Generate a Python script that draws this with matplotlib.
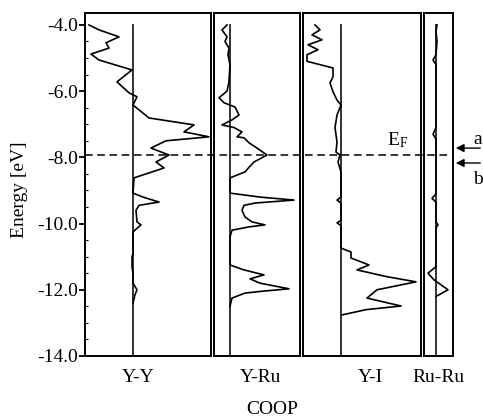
import matplotlib
matplotlib.use("Agg")
import matplotlib.pyplot as plt
import matplotlib.transforms as mtransforms
from matplotlib.lines import Line2D
from matplotlib.patches import FancyArrowPatch
from matplotlib.ticker import FormatStrFormatter, MultipleLocator

plt.rcParams['font.family'] = ['Liberation Serif', 'DejaVu Serif']
plt.rcParams['mathtext.fontset'] = 'custom'
plt.rcParams['mathtext.rm'] = 'Liberation Serif'
plt.rcParams['mathtext.it'] = 'Liberation Serif:italic'

# COOP curves (energy in eV, COOP in arbitrary units)
yy_E = [-4.0, -4.15, -4.36, -4.54, -4.7, -4.88, -5.06, -5.36, -5.72, -6.05, -6.17, -6.42,
        -6.81, -7.02, -7.23, -7.38, -7.5, -7.72, -7.93, -8.14, -8.32, -8.62, -9.08, -9.2,
        -9.35, -9.45, -9.6, -9.95, -10.04, -10.25, -10.9, -11.0, -11.3, -11.5, -11.8, -11.9,
        -12.0, -12.15, -12.4]
yy_c = [-44, -34, -14, -27, -24, -42, -34, -1, -16, -4, 4, 0,
        16, 61, 51, 76, 33, 18, 36, 23, 31, 1, 0, 10,
        26, 6, 3, 4, 8, 0, 0, -1, -1, 0, 0, 2,
        4, 2, 0]

yru_E = [-4.0, -4.15, -4.36, -4.5, -4.7, -4.9, -5.2, -5.72, -6.0, -6.2, -6.35, -6.48,
         -6.72, -6.87, -7.02, -7.1, -7.23, -7.38, -7.41, -7.56, -7.72, -7.93, -8.14, -8.3,
         -8.44, -8.62, -9.08, -9.2, -9.29, -9.38, -9.45, -9.6, -9.8, -9.95, -10.04, -10.1,
         -10.2, -10.4, -11.25, -11.4, -11.55, -11.67, -11.8, -11.97, -12.05, -12.1, -12.25, -12.5]
yru_c = [-3, -8, -3, -5, -1, -2, 0, -1, -3, -11, -6, 5,
         9, 2, -8, 4, 12, 7, 14, 19, 27, 37, 24, 19,
         15, 0, 0, 30, 64, 25, 14, 12, 15, 22, 35, 19,
         2, 0, 0, 14, 34, 20, 30, 59, 30, 15, 2, 0]

yi_E = [-4.0, -4.15, -4.3, -4.45, -4.6, -4.75, -4.9, -5.1, -5.3, -5.57, -5.75, -6.02,
        -6.27, -6.42, -6.72, -7.1, -7.53, -7.84, -7.93, -8.14, -8.44, -9.2, -9.29, -9.38,
        -9.9, -9.98, -10.06, -10.74, -10.86, -11.04, -11.25, -11.4, -11.6, -11.76, -12.0,
        -12.25, -12.49, -12.6, -12.76]
yi_c = [-26, -21, -29, -19, -33, -23, -34, -34, -8, -8, -11, -8,
        -4, 0, -4, -6, -4, -5, -1, -3, 0, 0, -4, 0,
        0, -4, 0, 0, 10, 10, 28, 16, 45, 75, 36,
        26, 60, 25, 1]

ruru_E = [-4.0, -4.2, -4.5, -4.9, -5.06, -5.2, -7.1, -7.3, -7.45, -9.1, -9.24, -9.35,
          -9.95, -10.04, -10.12, -11.3, -11.5, -11.7, -11.85, -12.0, -12.2]
ruru_c = [1, 0, 1, 0, -3, 0, 0, -3, 0, 0, -4, 0,
          0, 2, 0, 0, -8, -2, 5, 12, 0]

labels = ['Y-Y', 'Y-Ru', 'Y-I', 'Ru-Ru']
xlims = [(-48, 78), (-16, 70), (-38, 80), (-12, 17)]
E_F = -7.93

W, H = 483, 418
fig = plt.figure(figsize=(W / 100, H / 100), dpi=100)

# panel extents in pixels (left, right)
px = [(85, 211), (214, 300), (303, 421), (424, 453)]
top, bot = 13, 356
curves = [(yy_E, yy_c), (yru_E, yru_c), (yi_E, yi_c), (ruru_E, ruru_c)]
axes = []
for i, (l, r) in enumerate(px):
    ax = fig.add_axes([l / W, (H - bot) / H, (r - l) / W, (bot - top) / H])
    E, c = curves[i]
    ax.plot([0, 0], [-4.0, -14.0], color='#222222', lw=1.3)
    ax.plot(c, E, color='black', lw=1.2)
    ax.set_xlim(*xlims[i])
    ax.set_ylim(-14.0, -3.64)
    ax.set_xticks([])
    for s in ax.spines.values():
        s.set_linewidth(1.4)
    if i == 0:
        ax.set_yticks([-4, -6, -8, -10, -12, -14])
        ax.yaxis.set_major_formatter(FormatStrFormatter('%.1f'))
        ax.yaxis.set_minor_locator(MultipleLocator(0.5))
        ax.tick_params(axis='y', which='major', direction='out', length=4, width=1.3,
                       labelsize=14, pad=1)
        ax.tick_params(axis='y', which='minor', direction='in', length=2, width=0.8)
    else:
        ax.set_yticks([])
    axes.append(ax)

# Fermi level dashed line across all panels
tr = mtransforms.blended_transform_factory(fig.transFigure, axes[0].transData)
fig.add_artist(Line2D([85 / W, 450 / W], [E_F, E_F], transform=tr, color='black',
                      lw=1.1, ls=(0, (5, 3))))

# arrows a and b
ya = -7.72
yb = -8.17
for yv in (ya, yb):
    fig.add_artist(FancyArrowPatch((483 / W, yv), (453 / W, yv), transform=tr,
                                   arrowstyle='-|>', mutation_scale=12, color='black', lw=1.0))
fig.text(478 / W, (H - 140) / H, 'a', fontsize=14, ha='center', va='center')
fig.text(478 / W, (H - 180) / H, 'b', fontsize=14, ha='center', va='center')
fig.text(398 / W, (H - 140) / H, r'E$_\mathrm{F}$', fontsize=14, ha='center', va='center')

# labels
xc = [138, 260, 370, 438]
for x, lab in zip(xc, labels):
    fig.text(x / W, (H - 377) / H, lab, fontsize=14, ha='center', va='center')
fig.text(272 / W, (H - 409) / H, 'COOP', fontsize=14, ha='center', va='center')
fig.text(20 / W, (H - 190) / H, 'Energy [eV]', fontsize=14, ha='center', va='center',
         rotation=90)

fig.savefig('out.png', dpi=100)
